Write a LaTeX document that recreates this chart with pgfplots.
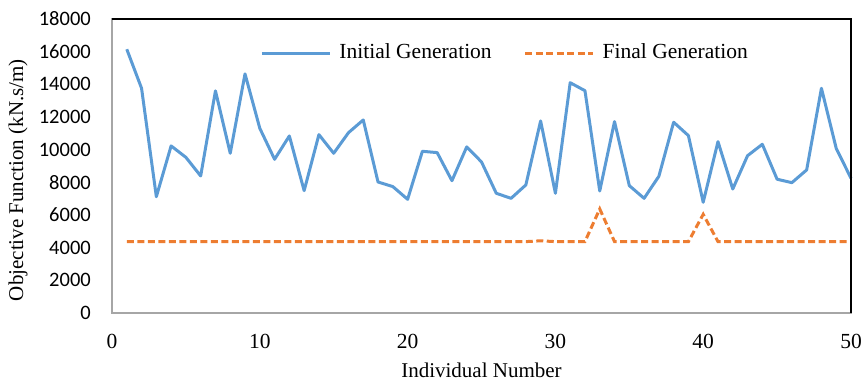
\documentclass[border=0pt]{standalone}
\usepackage{fontspec}
\setmainfont{Liberation Serif}
\newfontfamily\carlito{Carlito}
\usepackage{pgfplots}
\pgfplotsset{compat=1.18}
\definecolor{xlblue}{RGB}{91,155,213}
\definecolor{xlorange}{RGB}{237,125,49}
\begin{document}
\fontsize{21}{25}\selectfont
\begin{tikzpicture}
\path[use as bounding box] (0,0) rectangle (865pt,381pt);
\begin{axis}[
  at={(112pt,68pt)}, anchor=south west,
  scale only axis, width=739pt, height=294pt,
  xmin=0, xmax=50, ymin=0, ymax=18000,
  xtick={0,10,...,50}, ytick={0,2000,...,18000},
  scaled y ticks=false,
  /pgf/number format/1000 sep={},
  /pgf/number format/assume math mode=true,
  major tick length=0pt,
  axis line style={draw=black!35, line width=1.2pt},
  tick label style={font=\fontsize{21.5}{25}\selectfont},
  yticklabel style={font=\carlito\fontsize{20.5}{25}\selectfont, xshift=-14pt},
  xticklabel style={yshift=-14pt},
  xlabel={Individual Number},
  ylabel={Objective Function (kN.s/m)},
  label style={font=\fontsize{21}{25}\selectfont},
  xlabel style={at={([yshift=-57pt]rel axis cs:0.5,0)}, anchor=center},
  ylabel style={at={([xshift=-94pt]rel axis cs:0,0.452)}, anchor=center},
  legend style={draw=none, fill=none, at={(0.532,0.884)}, anchor=center,
    font=\fontsize{21.5}{25}\selectfont,
    /tikz/every even column/.append style={column sep=30pt},
    /tikz/every odd column/.append style={column sep=6pt}},
  legend columns=2,
  legend image code/.code={\draw[#1] (0pt,0pt) -- (68pt,0pt);},
  clip=false,
]
\addplot[xlblue, line width=3pt, line join=round] coordinates {
(1,16150) (2,13760) (3,7120) (4,10230) (5,9530) (6,8390) (7,13600) (8,9780)
(9,14640) (10,11310) (11,9410) (12,10840) (13,7490) (14,10920) (15,9780)
(16,11040) (17,11820) (18,8020) (19,7740) (20,6960) (21,9900) (22,9820)
(23,8100) (24,10170) (25,9250) (26,7330) (27,7020) (28,7840) (29,11760)
(30,7330) (31,14100) (32,13610) (33,7470) (34,11720) (35,7800) (36,7020)
(37,8370) (38,11680) (39,10860) (40,6780) (41,10490) (42,7590) (43,9630)
(44,10330) (45,8190) (46,7980) (47,8760) (48,13760) (49,10080) (50,8250)
};
\addlegendentry{Initial Generation}
\addplot[xlorange, line width=3pt, dash pattern=on 7pt off 3.5pt] coordinates {
(1,4370) (2,4370) (3,4370) (4,4370) (5,4370) (6,4370) (7,4370) (8,4370)
(9,4370) (10,4370) (11,4370) (12,4370) (13,4370) (14,4370) (15,4370)
(16,4370) (17,4370) (18,4370) (19,4370) (20,4370) (21,4370) (22,4370)
(23,4370) (24,4370) (25,4370) (26,4370) (27,4370) (28,4370) (29,4420)
(30,4370) (31,4370) (32,4370) (33,6370) (34,4370) (35,4370) (36,4370)
(37,4370) (38,4370) (39,4370) (40,6040) (41,4370) (42,4370) (43,4370)
(44,4370) (45,4370) (46,4370) (47,4370) (48,4370) (49,4370) (50,4370)
};
\addlegendentry{Final Generation}
\draw[black, line width=1.2pt] (rel axis cs:0,1) -- (rel axis cs:1,1) -- (rel axis cs:1,0);
\end{axis}
\end{tikzpicture}
\end{document}
